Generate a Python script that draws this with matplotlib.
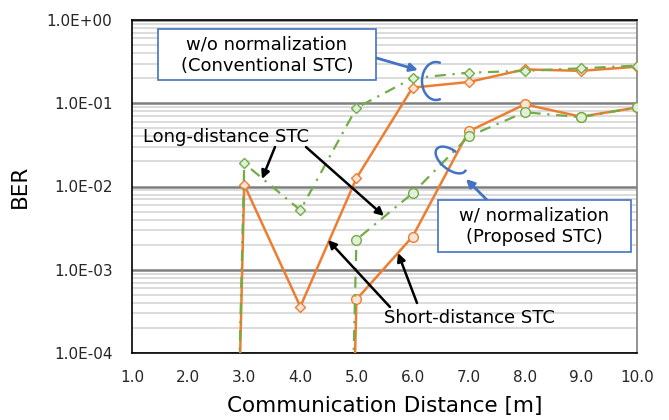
import matplotlib.pyplot as plt
from matplotlib.patches import Rectangle, Arc
from matplotlib.ticker import LogLocator, FixedLocator

# BER = 0 where nothing was measured; a tiny value stands in for zero on the log axis
ZERO = 1e-30

dist_long = [2, 3, 4, 5, 6, 7, 8, 9, 10]
ber_long_wo = [ZERO, 1.05e-2, 3.6e-4, 1.26e-2, 0.154, 0.18, 0.255, 0.245, 0.275]
ber_long_w = [ZERO, 1.9e-2, 5.2e-3, 8.8e-2, 0.20, 0.233, 0.245, 0.263, 0.283]

dist_short = [4, 5, 6, 7, 8, 9, 10]
ber_short_wo = [ZERO, 4.4e-4, 2.5e-3, 4.6e-2, 9.7e-2, 6.9e-2, 8.9e-2]
ber_short_w = [ZERO, 2.3e-3, 8.3e-3, 4.0e-2, 7.8e-2, 6.8e-2, 8.9e-2]

xticks = [1, 2, 3, 4, 5, 6, 7, 8, 9, 10]
yticks = [1e-4, 1e-3, 1e-2, 1e-1, 1e0]
ylabels = ["1.0E-04", "1.0E-03", "1.0E-02", "1.0E-01", "1.0E+00"]

ORANGE = "#ED7D31"
GREEN = "#70AD47"
BLUE = "#4472C4"

W, H = 669, 420


def px(x, y):
    # pixel position in the picture -> figure fraction
    return (x / W, 1 - y / H)


fig = plt.figure(figsize=(W / 100, H / 100), dpi=100)
ax = fig.add_axes([132 / W, 1 - 353 / H, (637 - 132) / W, (353 - 20) / H])

ax.set_yscale("log")
ax.set_xlim(1, 10)
ax.set_ylim(1e-4, 1)

dash = (0, (5, 3, 1, 3))
ax.plot(dist_long, ber_long_wo, color=ORANGE, lw=1.8, marker="D", ms=5.5,
        mfc="#FBE5D6", mec=ORANGE, mew=1.0, zorder=3)
ax.plot(dist_short, ber_short_wo, color=ORANGE, lw=1.8, marker="o", ms=7,
        mfc="#FBE5D6", mec=ORANGE, mew=1.0, zorder=3)
ax.plot(dist_long, ber_long_w, color=GREEN, lw=1.6, ls=dash, marker="D", ms=5.5,
        mfc="#E2F0D9", mec=GREEN, mew=1.0, zorder=4)
ax.plot(dist_short, ber_short_w, color=GREEN, lw=1.6, ls=dash, marker="o", ms=7,
        mfc="#E2F0D9", mec=GREEN, mew=1.0, zorder=4)

# grid
ax.yaxis.set_major_locator(FixedLocator(yticks))
ax.set_yticklabels(ylabels)
ax.yaxis.set_minor_locator(LogLocator(base=10, subs=range(2, 10)))
ax.yaxis.set_minor_formatter(plt.NullFormatter())
ax.grid(True, which="major", axis="y", color="#7F7F7F", lw=1.8, zorder=0)
ax.grid(True, which="minor", axis="y", color="#D9D9D9", lw=1.3, zorder=0)
ax.set_axisbelow(True)

ax.set_xticks(xticks)
ax.set_xticklabels([f"{v:.1f}" for v in xticks])
ax.tick_params(axis="both", which="both", length=0, labelsize=11, colors="#262626")
ax.tick_params(axis="x", pad=12)
ax.tick_params(axis="y", pad=14)

for side in ["left", "bottom", "top"]:
    ax.spines[side].set_color("black")
    ax.spines[side].set_linewidth(1.2)
ax.spines["right"].set_color("#808080")
ax.spines["right"].set_linewidth(1.2)

ax.set_xlabel("Communication Distance [m]", fontsize=15.5, labelpad=8)
ax.set_ylabel("BER", fontsize=15.5, labelpad=12)

# text boxes
fig.add_artist(Rectangle(px(158, 80), (376 - 158) / W, (80 - 29) / H,
                         transform=fig.transFigure, facecolor="white",
                         edgecolor=BLUE, lw=1.2, zorder=5))
fig.text(*px(267, 55), "w/o normalization\n(Conventional STC)", ha="center",
         va="center", fontsize=13, linespacing=1.25, zorder=6)
fig.add_artist(Rectangle(px(438, 252), (631 - 438) / W, (252 - 200) / H,
                         transform=fig.transFigure, facecolor="white",
                         edgecolor=BLUE, lw=1.2, zorder=5))
fig.text(*px(534, 226), "w/ normalization\n(Proposed STC)", ha="center",
         va="center", fontsize=13, linespacing=1.25, zorder=6)

fig.text(*px(226, 137), "Long-distance STC", ha="center", va="center", fontsize=13)
fig.text(*px(469, 318), "Short-distance STC", ha="center", va="center", fontsize=13)

# arrows
arrow_k = dict(arrowstyle="-|>", color="black", lw=1.8, mutation_scale=12,
               shrinkA=0, shrinkB=0)
arrow_b = dict(arrowstyle="-|>", color=BLUE, lw=2.0, mutation_scale=12,
               shrinkA=0, shrinkB=0)
arrows = [
    ((275, 147), (262, 179), arrow_k),
    ((306, 147), (384, 216), arrow_k),
    ((390, 307), (328, 240), arrow_k),
    ((417, 303), (398, 253), arrow_k),
    ((373, 57), (418, 70), arrow_b),
    ((487, 200), (466, 179), arrow_b),
]
for tail, head, props in arrows:
    ax.annotate("", xy=px(*head), xytext=px(*tail), xycoords="figure fraction",
                textcoords="figure fraction", arrowprops=props, zorder=7)

# bracket rings (inches, y up)
fig.add_artist(Arc((436 / 100, (H - 81) / 100), 0.28, 0.38, theta1=75, theta2=285,
                   transform=fig.dpi_scale_trans, color=BLUE, lw=1.8, zorder=7))
fig.add_artist(Arc((451 / 100, (H - 160) / 100), 0.36, 0.19, angle=-38,
                   theta1=95, theta2=365, transform=fig.dpi_scale_trans,
                   color=BLUE, lw=1.8, zorder=7))

fig.savefig("out.png", dpi=100)
